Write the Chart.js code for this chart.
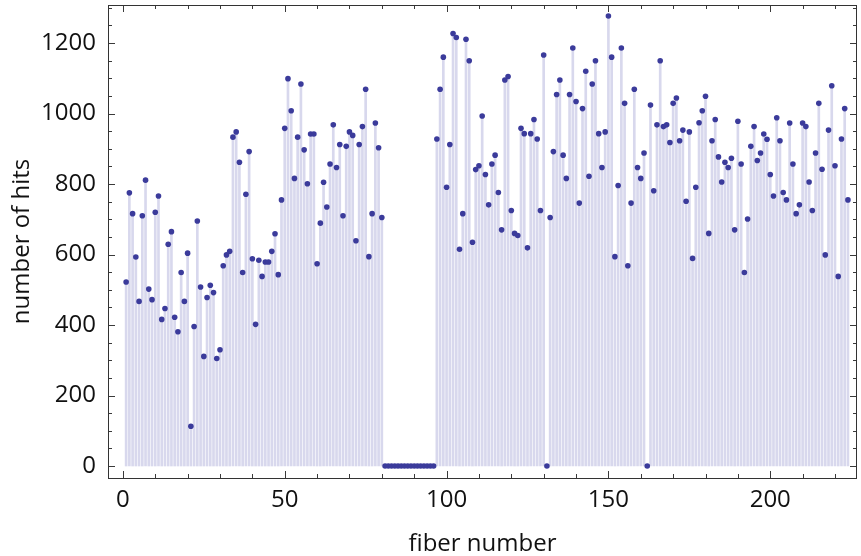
<!DOCTYPE html>
<html>
<head>
<meta charset="utf-8">
<script src="https://cdn.jsdelivr.net/npm/chart.js@4.4.1/dist/chart.umd.min.js"></script>
<style>
html,body{margin:0;padding:0;background:#fff;}
#c{display:block;}
</style>
</head>
<body>
<canvas id="c" width="861" height="556"></canvas>
<script>
// number of hits per fiber (fiber numbers 1..224)
const hits = [
  522, 775, 716, 593, 467, 710, 811, 502, 472, 720, 766, 416, 447, 629, 665, 422, 381, 549, 467, 604, 113,
  396, 695, 508, 311, 478, 513, 492, 305, 330, 568, 599, 609, 933, 948, 862, 549, 771, 892, 588, 402, 584, 538, 579,
  579, 609, 659, 543, 755, 958, 1099, 1008, 816, 933, 1084, 897, 801, 942, 942, 574, 689, 805, 735, 857, 968, 847, 912,
  710, 907, 948, 938, 639, 912, 963, 1069, 594, 716, 973, 903, 705,
  0, 0, 0, 0, 0, 0, 0, 0, 0, 0, 0, 0, 0, 0, 0, 0,
  928, 1069, 1160, 791, 912, 1227, 1216, 615, 716, 1211, 1150, 635, 841, 852, 993, 827, 741,
  857, 882, 776, 670, 1095, 1105, 725, 660, 654, 958, 943, 619, 943, 983, 928, 725, 1166, 0, 705, 892, 1054, 1095, 882,
  816, 1054, 1186, 1034, 746, 1014, 1120, 822, 1084, 1150, 943, 847, 948, 1277, 1160, 594, 796, 1186, 1029, 568, 746, 1069, 847,
  816, 888, 0, 1024, 781, 968, 1150, 963, 968, 918, 1029, 1044, 923, 953, 751, 948, 589, 791, 974, 1008, 1049, 660, 923,
  983, 877, 806, 862, 847, 873, 670, 978, 857, 549, 701, 907, 963, 867, 888, 942, 927, 827, 766, 988, 923, 776, 755,
  973, 857, 716, 741, 973, 963, 806, 725, 888, 1029, 842, 599, 953, 1079, 852, 538, 928, 1014, 755
];
const fiberNumbers = hits.map((_, i) => i + 1);
const xTickLabels = [0, 50, 100, 150, 200];
const yTickLabels = [0, 200, 400, 600, 800, 1000, 1200];
const xMinorStep = 10;
const yMinorStep = 50;

const points = fiberNumbers.map((f, i) => ({ x: f, y: hits[i] }));

const FONT = "'Open Sans', 'Noto Sans', sans-serif";

const framePlugin = {
  id: 'frame',
  afterDatasetsDraw(chart) {
    const { ctx, chartArea: a, scales } = chart;
    const xs = scales.x, ys = scales.y;
    ctx.save();
    ctx.strokeStyle = '#3a3a3a';
    ctx.lineWidth = 1;
    ctx.beginPath();
    for (let v = 0; v <= xs.max; v += xMinorStep) {
      if (v < xs.min) continue;
      const px = Math.round(xs.getPixelForValue(v)) + 0.5;
      const len = (v % 50 === 0) ? 7 : 4;
      ctx.moveTo(px, a.bottom); ctx.lineTo(px, a.bottom - len);
      ctx.moveTo(px, a.top); ctx.lineTo(px, a.top + len);
    }
    for (let v = 0; v <= ys.max; v += yMinorStep) {
      const py = Math.round(ys.getPixelForValue(v)) + 0.5;
      const len = (v % 200 === 0) ? 7 : 4;
      ctx.moveTo(a.left, py); ctx.lineTo(a.left + len, py);
      ctx.moveTo(a.right, py); ctx.lineTo(a.right - len, py);
    }
    ctx.stroke();
    ctx.strokeStyle = '#333';
    ctx.strokeRect(Math.round(a.left) + 0.5, Math.round(a.top) + 0.5,
                   Math.round(a.right - a.left) - 1, Math.round(a.bottom - a.top));
    ctx.restore();
  }
};

new Chart(document.getElementById('c'), {
  data: {
    datasets: [
      {
        type: 'bar',
        data: points,
        backgroundColor: 'rgb(216,216,237)',
        borderWidth: 0,
        barThickness: 2,
        grouped: false,
        order: 2
      },
      {
        type: 'scatter',
        data: points,
        backgroundColor: '#3b3b9b',
        borderWidth: 0,
        pointRadius: 2.8,
        showLine: false,
        order: 1
      }
    ]
  },
  options: {
    responsive: false,
    animation: false,
    devicePixelRatio: 1,
    layout: { padding: { top: 5, right: 1, left: 0, bottom: 0 } },
    plugins: { legend: { display: false }, tooltip: { enabled: false } },
    scales: {
      x: {
        type: 'linear',
        offset: false,
        min: -4.6,
        max: 226.8,
        afterBuildTicks: (s) => { s.ticks = xTickLabels.map(v => ({ value: v })); },
        afterFit: (s) => { s.height = 78; s.paddingLeft = 0; s.paddingRight = 0; },
        grid: { display: false, drawTicks: false },
        border: { display: false },
        ticks: { padding: 8, color: '#111', font: { family: FONT, size: 24 }, maxRotation: 0, autoSkip: false,
                 callback: (v) => String(v) },
        title: { display: true, text: 'fiber number', color: '#111', font: { family: FONT, size: 24 }, padding: { top: 0, bottom: -3 } }
      },
      y: {
        type: 'linear',
        min: -34,
        max: 1308,
        afterBuildTicks: (s) => { s.ticks = yTickLabels.map(v => ({ value: v })); },
        afterFit: (s) => { s.width = 108; s.paddingTop = 0; s.paddingBottom = 0; },
        grid: { display: false, drawTicks: false },
        border: { display: false },
        ticks: { padding: 12, color: '#111', font: { family: FONT, size: 24 }, callback: (v) => String(v) },
        title: { display: true, text: 'number of hits', color: '#111', font: { family: FONT, size: 24 }, padding: { top: 8, bottom: 0 } }
      }
    }
  },
  plugins: [framePlugin]
});
</script>
</body>
</html>
